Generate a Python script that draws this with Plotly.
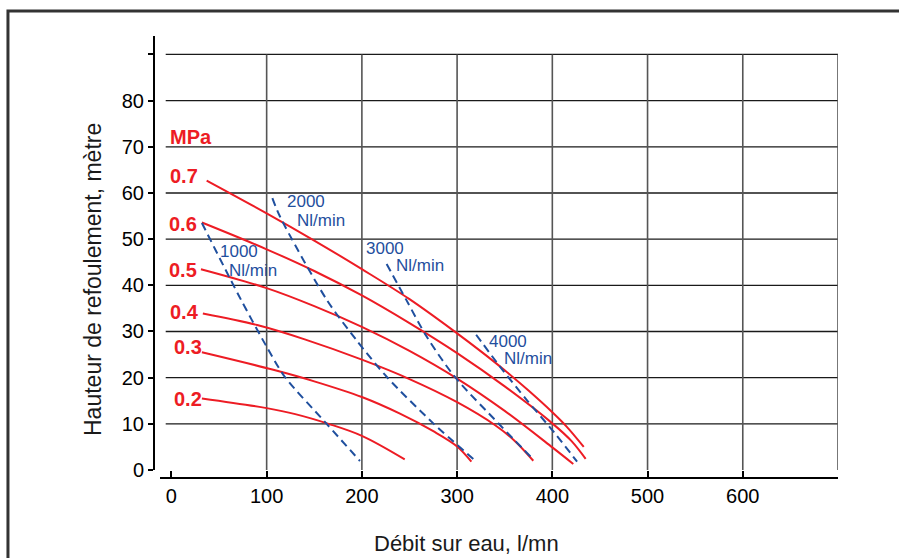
import plotly.graph_objects as go

# Pump performance: delivery head versus water flow, for several supply pressures (MPa)
# and constant air-consumption lines (Nl/min).
pressure_labels = ["0.7", "0.6", "0.5", "0.4", "0.3", "0.2"]
p07_x = [37, 100, 150, 200, 250, 300, 325, 350, 375, 400, 415, 433]
p07_y = [62.7, 55.6, 49.7, 43.5, 37.0, 29.6, 25.7, 21.6, 17.2, 12.5, 9.4, 5.0]
p06_x = [32, 100, 150, 200, 250, 300, 350, 400, 420, 435]
p06_y = [53.6, 47.8, 43.1, 37.8, 31.8, 25.3, 18.1, 10.1, 6.3, 2.4]
p05_x = [31, 100, 150, 200, 250, 300, 350, 400, 422]
p05_y = [43.5, 39.4, 35.5, 31.0, 25.8, 19.8, 12.8, 4.9, 1.3]
p04_x = [33, 90, 140, 200, 250, 300, 340, 360, 380]
p04_y = [33.9, 31.4, 28.3, 23.9, 19.7, 14.7, 9.7, 6.4, 2.0]
p03_x = [32, 107, 150, 200, 240, 275, 300, 315]
p03_y = [25.5, 21.7, 19.2, 15.8, 12.2, 8.4, 5.1, 1.8]
p02_x = [32, 100, 130, 165, 200, 245]
p02_y = [15.5, 13.4, 12.1, 10.0, 7.4, 2.3]

air_labels = ["1000", "2000", "3000", "4000"]
a1000_x = [32, 73, 100, 119, 163, 198]
a1000_y = [53.5, 36.9, 26.7, 20.2, 10.0, 1.95]
a2000_x = [106, 114, 163, 194, 226, 275, 317]
a2000_y = [58.9, 54.9, 36.9, 28.2, 20.2, 10.1, 2.4]
a3000_x = [226, 246.5, 268, 297.5, 345, 379]
a3000_y = [44.6, 36.9, 28.9, 20.2, 9.75, 2.5]
a4000_x = [320, 345, 373, 402.5, 426]
a4000_y = [29.3, 22.4, 15.2, 8.0, 1.8]

x_ticks = [0, 100, 200, 300, 400, 500, 600, 700]
x_ticktext = ["0", "100", "200", "300", "400", "500", "600", ""]
y_ticks = [0, 10, 20, 30, 40, 50, 60, 70, 80, 90]
y_ticktext = ["0", "10", "20", "30", "40", "50", "60", "70", "80", ""]

RED = "#ED1C24"
BLUE = "#1F4F9E"
FONT = "Liberation Sans, Arial, Helvetica, sans-serif"

fig = go.Figure()

pressure_curves = [(p07_x, p07_y), (p06_x, p06_y), (p05_x, p05_y),
                   (p04_x, p04_y), (p03_x, p03_y), (p02_x, p02_y)]
for name, (xs, ys) in zip(pressure_labels, pressure_curves):
    fig.add_trace(go.Scatter(x=xs, y=ys, mode="lines", name=name + " MPa",
                             line=dict(color=RED, width=2, shape="spline", smoothing=1.0)))

air_curves = [(a1000_x, a1000_y), (a2000_x, a2000_y), (a3000_x, a3000_y), (a4000_x, a4000_y)]
for name, (xs, ys) in zip(air_labels, air_curves):
    fig.add_trace(go.Scatter(x=xs, y=ys, mode="lines", name=name + " Nl/min",
                             line=dict(color=BLUE, width=2, dash="8px,5px",
                                       shape="spline", smoothing=0.8)))

# grid: horizontal lines from the left edge of the grid to 700, vertical lines 0..90
shapes = []
for yv in y_ticks[1:]:
    shapes.append(dict(type="line", xref="x", yref="y", x0=-6, x1=700, y0=yv, y1=yv,
                       line=dict(color="#1a1a1a", width=1.3), layer="below"))
for xv in x_ticks[1:]:
    shapes.append(dict(type="line", xref="x", yref="y", x0=xv, x1=xv, y0=0, y1=90,
                       line=dict(color="#555555", width=1.6), layer="below"))
# outer frame
shapes.append(dict(type="rect", xref="paper", yref="paper", x0=-0.2135, x1=1.3,
                   y0=-0.4, y1=1.0566, line=dict(color="#333333", width=3)))

annotations = []
# pressure labels
red_label_pos = [("MPa", -3.7, 72.2), ("0.7", -3.4, 63.6), ("0.6", -4.4, 53.3),
                 ("0.5", -4.7, 43.4), ("0.4", -3.7, 34.3), ("0.3", 0.2, 26.6),
                 ("0.2", 0.5, 15.4)]
for txt, xv, yv in red_label_pos:
    annotations.append(dict(x=xv, y=yv, xref="x", yref="y", text="<b>%s</b>" % txt,
                            showarrow=False, xanchor="left", yanchor="middle",
                            font=dict(family=FONT, size=20, color=RED)))
# air consumption labels (value, then unit on a second, indented line)
blue_label_pos = [("1000", 50.2, 47.3, 59.6, 43.2), ("2000", 120.2, 58.1, 130.7, 54.0),
                  ("3000", 203.1, 48.0, 234.6, 44.2), ("4000", 332.5, 27.9, 347.9, 24.1)]
for txt, x1, y1, x2, y2 in blue_label_pos:
    annotations.append(dict(x=x1, y=y1, xref="x", yref="y", text=txt, showarrow=False,
                            xanchor="left", yanchor="middle", height=15, borderpad=0,
                            font=dict(family=FONT, size=17, color=BLUE)))
    annotations.append(dict(x=x2, y=y2, xref="x", yref="y", text="Nl/min", showarrow=False,
                            xanchor="left", yanchor="middle", height=15, borderpad=0,
                            font=dict(family=FONT, size=17, color=BLUE)))
# axis titles
annotations.append(dict(x=0.4572, y=-0.1471, xref="paper", yref="paper",
                        text="Débit sur eau, l/mn", showarrow=False,
                        xanchor="center", yanchor="middle",
                        font=dict(family=FONT, size=22, color="#1a1a1a")))
annotations.append(dict(x=-0.0892, y=0.4502, xref="paper", yref="paper",
                        text="Hauteur de refoulement, mètre", showarrow=False,
                        textangle=-90, xanchor="center", yanchor="middle",
                        font=dict(family=FONT, size=23, color="#1a1a1a")))

fig.update_layout(
    width=899, height=558,
    margin=dict(l=154, r=61, t=36, b=80),
    paper_bgcolor="white", plot_bgcolor="white",
    showlegend=False,
    shapes=shapes,
    annotations=annotations,
    xaxis=dict(range=[-12, 700], domain=[6 / 684, 1], anchor="free", position=0,
               showgrid=False, zeroline=False, showline=True, linecolor="black",
               linewidth=2, ticks="inside", ticklen=6, tickwidth=2, tickcolor="black",
               tickvals=x_ticks, ticktext=x_ticktext,
               tickfont=dict(family=FONT, size=20, color="black")),
    yaxis=dict(range=[0, 94], domain=[8 / 442, 1], anchor="free", position=0,
               showgrid=False, zeroline=False, showline=True, linecolor="black",
               linewidth=2, ticks="outside", ticklen=5, tickwidth=2, tickcolor="black",
               tickvals=y_ticks, ticktext=y_ticktext,
               tickfont=dict(family=FONT, size=20, color="black")),
)

fig.write_html("out.html")
